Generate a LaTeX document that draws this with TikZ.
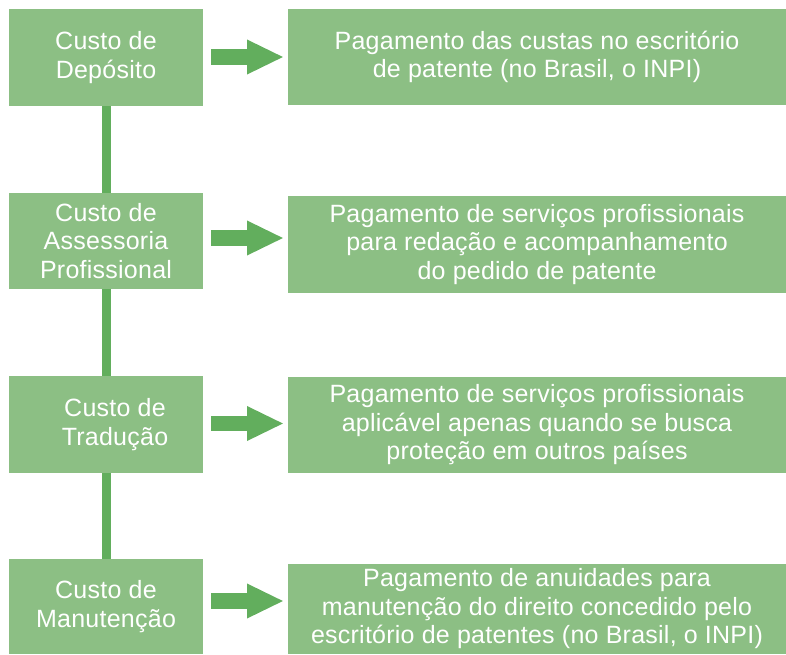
\documentclass[tikz,border=0pt]{standalone}
\usepackage{fontspec}
\setmainfont[LetterSpace=1]{Liberation Sans}
\usetikzlibrary{arrows.meta,calc}
\definecolor{boxgreen}{HTML}{8CBF84}
\definecolor{linkgreen}{HTML}{62AE5D}
\tikzset{
  box/.style={fill=boxgreen, draw=none, inner sep=0pt, outer sep=0pt, anchor=north west,
    text=white, align=center, font=\fontsize{25}{28.5}\selectfont},
  lbox/.style={box, minimum width=194pt},
  rbox/.style={box, minimum width=498pt},
  boxtext/.style={inner sep=0pt, text=white, align=center, font=\fontsize{25}{28.5}\selectfont},
  bigarrow/.style={draw=linkgreen, line width=15.5pt, line cap=butt,
    -{Triangle[length=37pt,width=32pt]}, shorten <=8pt, shorten >=4pt},
  vlink/.style={draw=linkgreen, line width=9pt, line cap=butt}
}
\begin{document}
\begin{tikzpicture}[x=1pt,y=-1pt]
\useasboundingbox (0,0) rectangle (786,654);
% left boxes
\node[lbox, minimum height=97pt] (L1) at (9,9) {Custo de\\Depósito};
\node[lbox, minimum height=96pt] (L2) at (9,193) {Custo de\\Assessoria\\Profissional};
\node[lbox, minimum height=97pt] (L3) at (9,376) {};
\node[boxtext] (L3t) at ($(L3.center)+(9,0)$) {Custo de\\Tradução};
\node[lbox, minimum height=95pt] (L4) at (9,559) {Custo de\\Manutenção};
% right boxes
\node[rbox, minimum height=96pt] (R1) at (288,9) {Pagamento das custas no escritório\\de patente (no Brasil, o INPI)};
\node[rbox, minimum height=97pt] (R2) at (288,196) {Pagamento de serviços profissionais\\para redação e acompanhamento\\do pedido de patente};
\node[rbox, minimum height=96pt] (R3) at (288,377) {Pagamento de serviços profissionais\\aplicável apenas quando se busca\\proteção em outros países};
\node[rbox, minimum height=90pt] (R4) at (288,564) {Pagamento de anuidades para\\manutenção do direito concedido pelo\\escritório de patentes (no Brasil, o INPI)};
% vertical links
\draw[vlink] ([xshift=0.5pt]L1.south) -- ([xshift=0.5pt]L2.north);
\draw[vlink] ([xshift=0.5pt]L2.south) -- ([xshift=0.5pt]L3.north);
\draw[vlink] ([xshift=0.5pt]L3.south) -- ([xshift=0.5pt]L4.north);
% arrows
\draw[bigarrow] ([yshift=0.5pt]L1.east) -- ([yshift=0.5pt]L1.east -| R1.west);
\draw[bigarrow] ([yshift=3pt]L2.east) -- ([yshift=3pt]L2.east -| R2.west);
\draw[bigarrow] ([yshift=1pt]L3.east) -- ([yshift=1pt]L3.east -| R3.west);
\draw[bigarrow] ([yshift=5.5pt]L4.east) -- ([yshift=5.5pt]L4.east -| R4.west);
\end{tikzpicture}
\end{document}
